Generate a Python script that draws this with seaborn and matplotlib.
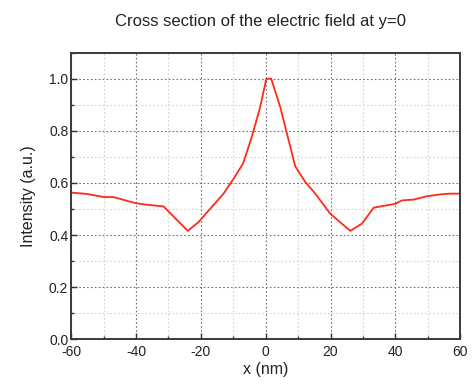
import numpy as np
import pandas as pd
import seaborn as sns
import matplotlib
matplotlib.use("Agg")
import matplotlib.pyplot as plt
from matplotlib.ticker import MultipleLocator

x_nm = [-60, -55.2, -50, -47, -40.3, -37.2, -31.5, -24, -20.7, -13, -9.9, -7.0,
        -5.8, -4.3, -1.7, 0.2, 1.7, 4.5, 9.1, 12.2, 15.3, 19.9, 26.1, 29.7,
        33.3, 36.4, 40, 42, 45.6, 49.7, 53.8, 56.9, 60]
intensity = [0.563, 0.558, 0.546, 0.546, 0.523, 0.517, 0.510, 0.416, 0.450,
             0.559, 0.616, 0.674, 0.719, 0.776, 0.891, 1.0, 1.0, 0.891, 0.664,
             0.604, 0.559, 0.482, 0.416, 0.444, 0.505, 0.512, 0.520, 0.533,
             0.536, 0.549, 0.556, 0.559, 0.559]

df = pd.DataFrame({"x (nm)": x_nm, "Intensity (a.u.)": intensity})

sns.set_theme(style="white")
plt.rcParams['font.family'] = ['Liberation Sans', 'DejaVu Sans']
plt.rcParams['axes.unicode_minus'] = False

fig = plt.figure(figsize=(4.74, 3.90), dpi=100)
ax = fig.add_axes([0.150, 0.130, 0.821, 0.735])

sns.lineplot(data=df, x="x (nm)", y="Intensity (a.u.)", ax=ax, color="#ff2a1a",
             linewidth=1.3, sort=False)

ax.set_xlim(-60, 60)
ax.set_ylim(0, 1.1)
ax.xaxis.set_major_locator(MultipleLocator(20))
ax.xaxis.set_minor_locator(MultipleLocator(10))
ax.yaxis.set_major_locator(MultipleLocator(0.2))
ax.yaxis.set_minor_locator(MultipleLocator(0.1))
ax.yaxis.set_major_formatter(matplotlib.ticker.FormatStrFormatter('%.1f'))

ax.grid(which='minor', color='#c8dcc0', linestyle=(0, (1.5, 2)), linewidth=0.8)
ax.grid(which='major', color='#707078', linestyle=(0, (1.5, 2)), linewidth=0.8)
ax.set_axisbelow(True)

ax.tick_params(which='major', direction='in', length=4, width=1, color='#333333',
               labelsize=10, labelcolor='#222222', bottom=True, left=True)
ax.tick_params(axis='x', which='major', pad=4)
ax.tick_params(axis='y', which='major', pad=2)
ax.tick_params(which='minor', direction='in', length=2.5, width=1, color='#333333',
               bottom=True, left=True)

for s in ax.spines.values():
    s.set_color('#3a3a3a')
    s.set_linewidth(1.4)

ax.set_xlabel("x (nm)", fontsize=11.5, color='#222222', labelpad=2)
ax.set_ylabel("Intensity (a.u.)", fontsize=11.5, color='#222222', labelpad=9)
fig.text(0.55, 0.945, "Cross section of the electric field at y=0", ha='center',
         va='center', fontsize=12, color='#222222')

fig.savefig("out.png", dpi=100, facecolor='white')
